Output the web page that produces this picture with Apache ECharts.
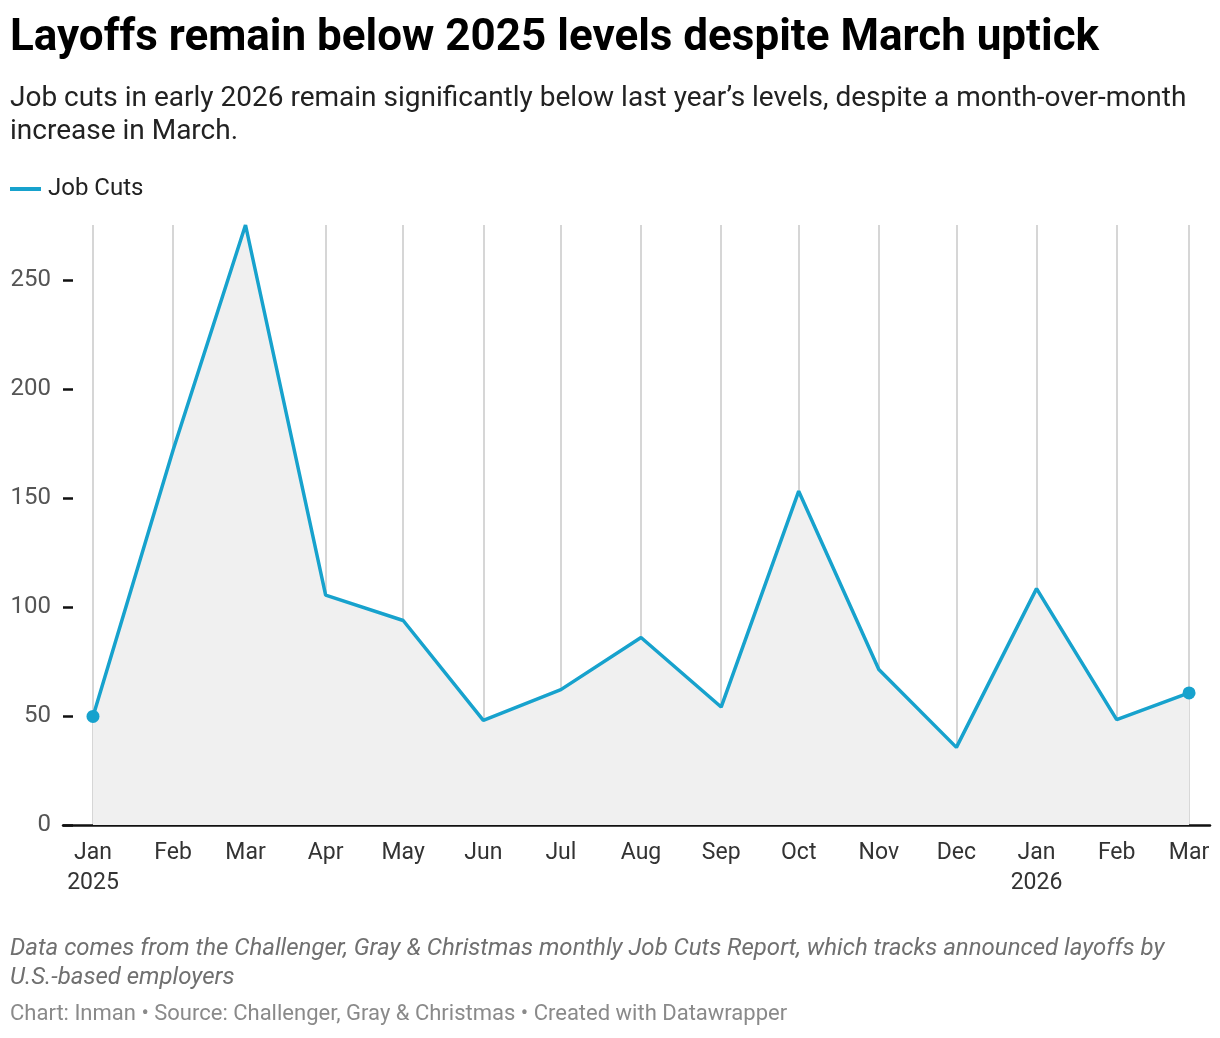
<!DOCTYPE html>
<html>
<head>
<meta charset="utf-8">
<script src="https://cdn.jsdelivr.net/npm/echarts@6/dist/echarts.min.js"></script>
<style>
html,body{margin:0;padding:0;background:#fff;}
#chart{width:1220px;height:1038px;}
</style>
</head>
<body>
<div id="chart"></div>
<script>
// Month dates (first of month) and labels
const months = ['2025-01-01','2025-02-01','2025-03-01','2025-04-01','2025-05-01','2025-06-01','2025-07-01','2025-08-01','2025-09-01','2025-10-01','2025-11-01','2025-12-01','2026-01-01','2026-02-01','2026-03-01'];
const monthLabels = ['Jan\n2025','Feb','Mar','Apr','May','Jun','Jul','Aug','Sep','Oct','Nov','Dec','Jan\n2026','Feb','Mar'];
// Job cuts, thousands
const jobCuts = [49.8, 172.0, 275.2, 105.4, 93.8, 48.0, 62.1, 86.0, 54.1, 153.1, 71.3, 35.6, 108.4, 48.3, 60.6];
const yTicks = [0, 50, 100, 150, 200, 250];

const DAY = 86400000;
const t0 = Date.UTC(2025, 0, 1);
const dayOf = s => (Date.parse(s + 'T00:00:00Z') - t0) / DAY;
const xs = months.map(dayOf);
const labelByDay = {};
xs.forEach((d, i) => labelByDay[d] = monthLabels[i]);

const BLUE = '#17a2cd';
const FONT = 'Roboto';

const lineData = xs.map((d, i) => {
  const item = { value: [d, jobCuts[i]] };
  if (i === 0 || i === xs.length - 1) {
    item.symbol = 'circle';
    item.symbolSize = 13;
  }
  return item;
});

const chart = echarts.init(document.getElementById('chart'), null, { renderer: 'canvas' });
chart.setOption({
  backgroundColor: '#fff',
  animation: false,
  textStyle: { fontFamily: FONT },
  title: [
    { text: 'Layoffs remain below 2025 levels despite March uptick', left: 5, top: 12,
      textStyle: { fontFamily: FONT, fontSize: 44, fontWeight: 'bold', color: '#000' } },
    { text: 'Job cuts in early 2026 remain significantly below last year\u2019s levels, despite a month-over-month\nincrease in March.',
      left: 5, top: 77,
      textStyle: { fontFamily: FONT, fontSize: 28, fontWeight: 'normal', color: '#222', lineHeight: 33 } },
    { text: 'Data comes from the Challenger, Gray & Christmas monthly Job Cuts Report, which tracks announced layoffs by\nU.S.-based employers',
      left: 5, top: 929,
      textStyle: { fontFamily: FONT, fontSize: 24, fontStyle: 'italic', fontWeight: 'normal', color: '#707070', lineHeight: 29 } },
    { text: 'Chart: Inman \u2022 Source: Challenger, Gray & Christmas \u2022 Created with Datawrapper',
      left: 5, top: 998,
      textStyle: { fontFamily: FONT, fontSize: 22, fontWeight: 'normal', color: '#8a8a8a' } }
  ],
  legend: {
    left: 5, top: 172,
    itemWidth: 31, itemHeight: 4, itemGap: 8,
    icon: 'rect',
    data: [{ name: 'Job Cuts', icon: 'rect', itemStyle: { color: BLUE } }],
    textStyle: { fontFamily: FONT, fontSize: 24, color: '#222', padding: [0, 0, 0, 2] },
    selectedMode: false
  },
  grid: { left: 63, right: 10, top: 225, bottom: 213, containLabel: false },
  xAxis: {
    type: 'value',
    min: -11.6, max: 432.1,
    axisLine: { show: true, onZero: false, lineStyle: { color: '#111', width: 2.5 } },
    axisTick: { show: false, customValues: xs },
    splitLine: { show: true, lineStyle: { color: '#d6d6d6', width: 2 } },
    axisLabel: {
      customValues: xs,
      formatter: v => labelByDay[v] || '',
      fontFamily: FONT, fontSize: 23, color: '#333', lineHeight: 30, margin: 13
    }
  },
  yAxis: {
    type: 'value',
    min: 0, max: 'dataMax',
    axisLine: { show: false, onZero: false },
    splitLine: { show: false },
    axisTick: { show: true, inside: true, length: 10, customValues: yTicks, lineStyle: { color: '#111', width: 2.5 } },
    axisLabel: { customValues: yTicks, fontFamily: FONT, fontSize: 24, color: '#555', margin: 12 }
  },
  series: [
    {
      name: 'Job Cuts',
      type: 'line',
      data: lineData,
      symbol: 'none',
      showSymbol: true,
      itemStyle: { color: BLUE },
      lineStyle: { color: BLUE, width: 3.5 },
      areaStyle: { color: '#f0f0f0', opacity: 1 },
      z: 3
    }
  ]
});
</script>
</body>
</html>
